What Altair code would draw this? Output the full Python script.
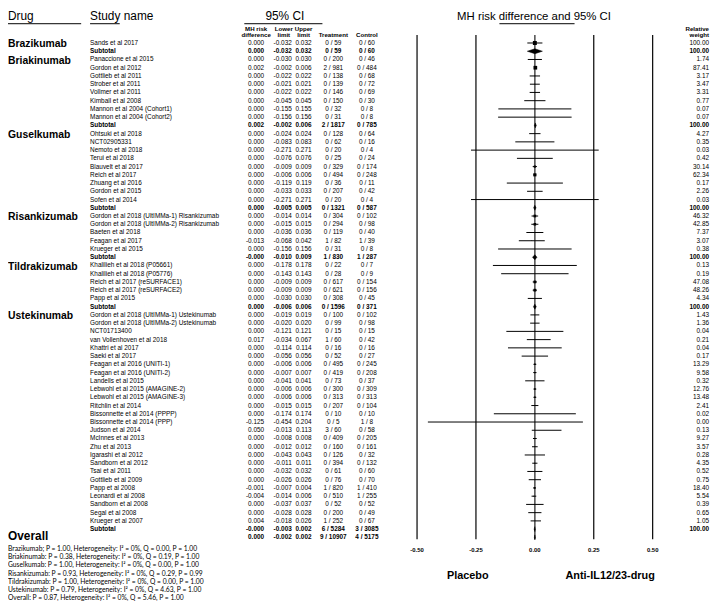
import altair as alt
import pandas as pd

# ---------------- data ----------------
drugs = ["Brazikumab", "Briakinumab", "Guselkumab", "Risankizumab", "Tildrakizumab", "Ustekinumab"]
studies_per_drug = [1, 8, 9, 5, 5, 26]

study_names = [
    "Sands et al 2017", "Subtotal",
    "Panaccione et al 2015", "Gordon et al 2012", "Gottlieb et al 2011", "Strober et al 2011",
    "Vollmer et al 2011", "Kimball et al 2008", "Mannon et al 2004 (Cohort1)", "Mannon et al 2004 (Cohort2)", "Subtotal",
    "Ohtsuki et al 2018", "NCT02905331", "Nemoto et al 2018", "Terui et al 2018", "Blauvelt et al 2017",
    "Reich et al 2017", "Zhuang et al 2016", "Gordon et al 2015", "Sofen et al 2014", "Subtotal",
    "Gordon et al 2018 (UltIMMa-1) Risankizumab", "Gordon et al 2018 (UltIMMa-2) Risankizumab",
    "Baeten et al 2018", "Feagan et al 2017", "Krueger et al 2015", "Subtotal",
    "Khalilieh et al 2018 (P05661)", "Khalilieh et al 2018 (P05776)", "Reich et al 2017 (reSURFACE1)",
    "Reich et al 2017 (reSURFACE2)", "Papp et al 2015", "Subtotal",
    "Gordon et al 2018 (UltIMMa-1) Ustekinumab", "Gordon et al 2018 (UltIMMa-2) Ustekinumab", "NCT01713400",
    "van Vollenhoven et al 2018", "Khattri et al 2017", "Saeki et al 2017", "Feagan et al 2016 (UNITI-1)",
    "Feagan et al 2016 (UNITI-2)", "Landells et al 2015", "Lebwohl et al 2015 (AMAGINE-2)",
    "Lebwohl et al 2015 (AMAGINE-3)", "Ritchlin et al 2014", "Bissonnette et al 2014 (PPPP)",
    "Bissonnette et al 2014 (PPP)", "Judson et al 2014", "McInnes et al 2013", "Zhu et al 2013",
    "Igarashi et al 2012", "Sandborn et al 2012", "Tsai et al 2011", "Gottlieb et al 2009", "Papp et al 2008",
    "Leonardi et al 2008", "Sandborn et al 2008", "Segal et al 2008", "Krueger et al 2007", "Subtotal",
    "Overall",
]

risk_diff = [
    0.000, 0.000,
    0.000, 0.002, 0.000, 0.000, 0.000, 0.000, 0.000, 0.000, 0.002,
    0.000, 0.000, 0.000, 0.000, 0.000, 0.000, 0.000, 0.000, 0.000, 0.000,
    0.000, 0.000, 0.000, -0.013, 0.000, -0.0,
    0.000, 0.000, 0.000, 0.000, 0.000, 0.000,
    0.000, 0.000, 0.000, 0.017, 0.000, 0.000, 0.000, 0.000, 0.000, 0.000, 0.000, 0.000, 0.000,
    -0.125, 0.050, 0.000, 0.000, 0.000, 0.000, 0.000, 0.000, -0.001, -0.004, 0.000, 0.000, 0.004, -0.0,
    0.000,
]

lower_limit = [
    -0.032, -0.032,
    -0.030, -0.002, -0.022, -0.021, -0.022, -0.045, -0.155, -0.156, -0.002,
    -0.024, -0.083, -0.271, -0.076, -0.009, -0.006, -0.119, -0.033, -0.271, -0.005,
    -0.014, -0.015, -0.036, -0.068, -0.156, -0.010,
    -0.178, -0.143, -0.009, -0.009, -0.030, -0.006,
    -0.019, -0.020, -0.121, -0.034, -0.114, -0.056, -0.006, -0.007, -0.041, -0.006, -0.006, -0.015, -0.174,
    -0.454, -0.013, -0.008, -0.012, -0.043, -0.011, -0.032, -0.026, -0.007, -0.014, -0.037, -0.028, -0.018, -0.003,
    -0.002,
]

upper_limit = [
    0.032, 0.032,
    0.030, 0.006, 0.022, 0.021, 0.022, 0.045, 0.155, 0.156, 0.006,
    0.024, 0.083, 0.271, 0.076, 0.009, 0.006, 0.119, 0.033, 0.271, 0.005,
    0.014, 0.015, 0.036, 0.042, 0.156, 0.009,
    0.178, 0.143, 0.009, 0.009, 0.030, 0.006,
    0.019, 0.020, 0.121, 0.067, 0.114, 0.056, 0.006, 0.007, 0.041, 0.006, 0.006, 0.015, 0.174,
    0.204, 0.113, 0.008, 0.012, 0.043, 0.011, 0.032, 0.026, 0.004, 0.006, 0.037, 0.028, 0.026, 0.002,
    0.002,
]

treatment = [
    "0 / 59", "0 / 59",
    "0 / 200", "2 / 981", "0 / 138", "0 / 139", "0 / 146", "0 / 150", "0 / 32", "0 / 31", "2 / 1817",
    "0 / 128", "0 / 62", "0 / 20", "0 / 25", "0 / 329", "0 / 494", "0 / 36", "0 / 207", "0 / 20", "0 / 1321",
    "0 / 304", "0 / 294", "0 / 119", "1 / 82", "0 / 31", "1 / 830",
    "0 / 22", "0 / 28", "0 / 617", "0 / 621", "0 / 308", "0 / 1596",
    "0 / 100", "0 / 99", "0 / 15", "1 / 60", "0 / 16", "0 / 52", "0 / 495", "0 / 419", "0 / 73", "0 / 300",
    "0 / 313", "0 / 207", "0 / 10", "0 / 5", "3 / 60", "0 / 409", "0 / 160", "0 / 126", "0 / 394", "0 / 61",
    "0 / 76", "1 / 820", "0 / 510", "0 / 52", "0 / 200", "1 / 252", "6 / 5284",
    "9 / 10907",
]

control = [
    "0 / 60", "0 / 60",
    "0 / 46", "0 / 484", "0 / 68", "0 / 72", "0 / 69", "0 / 30", "0 / 8", "0 / 8", "0 / 785",
    "0 / 64", "0 / 16", "0 / 4", "0 / 24", "0 / 174", "0 / 248", "0 / 11", "0 / 42", "0 / 4", "0 / 587",
    "0 / 102", "0 / 98", "0 / 40", "1 / 39", "0 / 8", "1 / 287",
    "0 / 7", "0 / 9", "0 / 154", "0 / 156", "0 / 45", "0 / 371",
    "0 / 102", "0 / 98", "0 / 15", "0 / 42", "0 / 16", "0 / 27", "0 / 245", "0 / 208", "0 / 37", "0 / 309",
    "0 / 313", "0 / 104", "0 / 10", "1 / 8", "0 / 58", "0 / 205", "0 / 161", "0 / 32", "0 / 132", "0 / 60",
    "0 / 70", "1 / 410", "1 / 255", "0 / 52", "0 / 49", "0 / 67", "3 / 3085",
    "4 / 5175",
]

relative_weight = [
    100.00, 100.00,
    1.74, 87.41, 3.17, 3.47, 3.31, 0.77, 0.07, 0.07, 100.00,
    4.27, 0.35, 0.03, 0.42, 30.14, 62.34, 0.17, 2.26, 0.03, 100.00,
    46.32, 42.85, 7.37, 3.07, 0.38, 100.00,
    0.13, 0.19, 47.08, 48.26, 4.34, 100.00,
    1.43, 1.36, 0.04, 0.21, 0.04, 0.17, 13.29, 9.58, 0.32, 12.76, 13.48, 2.41, 0.02, 0.00, 0.13, 9.27, 3.57,
    0.28, 4.35, 0.52, 0.75, 18.40, 5.54, 0.39, 0.65, 1.05, 100.00,
    None,
]

tick_values = [-0.50, -0.25, 0.00, 0.25, 0.50]
tick_labels = ["-0.50", "-0.25", "0.00", "0.25", "0.50"]

footnotes = [
    "Brazikumab; P = 1.00, Heterogeneity: I\u00b2 = 0%, Q = 0.00, P = 1.00",
    "Briakinumab: P = 0.38, Heterogeneity: I\u00b2 = 0%, Q = 0.19, P = 1.00",
    "Guselkumab: P = 1.00, Heterogeneity: I\u00b2 = 0%, Q = 0.00, P = 1.00",
    "Risankizumab: P = 0.93, Heterogeneity: I\u00b2 = 0%, Q = 0.29, P = 0.99",
    "Tildrakizumab: P = 1.00,  Heterogeneity: I\u00b2 = 0%, Q = 0.00, P = 1.00",
    "Ustekinumab: P = 0.79, Heterogeneity: I\u00b2 = 0%, Q = 4.63, P = 1.00",
    "Overall: P = 0.87, Heterogeneity: I\u00b2 = 0%, Q = 5.46, P = 1.00",
]

# ---------------- tables ----------------
F = "Liberation Sans"
kind = ["overall" if n == "Overall" else "subtotal" if n == "Subtotal" else "study" for n in study_names]
df = pd.DataFrame({
    "row": list(range(1, len(study_names) + 1)),
    "name": study_names,
    "kind": kind,
    "rd": risk_diff,
    "lo": lower_limit,
    "hi": upper_limit,
    "rd_s": [f"{v:.3f}" for v in risk_diff],
    "lo_s": [f"{v:.3f}" for v in lower_limit],
    "hi_s": [f"{v:.3f}" for v in upper_limit],
    "treat": treatment,
    "ctrl": control,
    "w": [0 if w is None else w for w in relative_weight],
    "w_s": ["" if w is None else f"{w:.2f}" for w in relative_weight],
})

first_rows = []
r = 1
for n in studies_per_drug:
    first_rows.append(r)
    r += n + 1
df_drug = pd.DataFrame({"drug": drugs, "row": first_rows})

half = 0.3
diamonds = []
for rec in df[df.kind != "study"].itertuples():
    diamonds += [
        {"row": rec.row, "x": rec.lo, "y1": rec.row, "y2": rec.row},
        {"row": rec.row, "x": rec.rd, "y1": rec.row - half, "y2": rec.row + half},
        {"row": rec.row, "x": rec.hi, "y1": rec.row, "y2": rec.row},
    ]
df_dia = pd.DataFrame(diamonds)
df_ticks = pd.DataFrame({"t": tick_values, "lab": tick_labels})
one = pd.DataFrame({"a": [0]})

xs = alt.Scale(domain=[-0.5, 0.5], range=[413.7, 652], nice=False, zero=False)
ys = alt.Scale(domain=[1, 61], range=[32, 532], nice=False, zero=False)
Y = alt.Y("row:Q", scale=ys, axis=None)

base = alt.Chart(df)
layers = []


def label(text, x, y, size, bold=False, align="left", baseline="middle", font=F):
    return alt.Chart(one).mark_text(
        align=align, baseline=baseline, font=font, fontSize=size,
        fontWeight="bold" if bold else "normal", color="black"
    ).encode(x=alt.value(x), y=alt.value(y), text=alt.value(text))


def hline(x1, x2, y):
    return alt.Chart(one).mark_rule(color="black", strokeWidth=1).encode(
        x=alt.value(x1), x2=alt.value(x2), y=alt.value(y))


# headers
layers += [
    label("Drug", 0, 9, 12, baseline="alphabetic"),
    label("Study name", 83, 9, 12, baseline="alphabetic"),
    label("95% CI", 280, 9, 12, align="center", baseline="alphabetic"),
    label("MH risk difference and 95% CI", 532, 9, 11.5, align="center", baseline="alphabetic"),
    hline(0, 74, 12.5), hline(83, 113, 12.5), hline(239, 318, 12.5), hline(497, 573, 12.5),
]
sub_headers = [
    ("MH risk", 251, 17.5, "center"), ("difference", 251, 23.5, "center"),
    ("Lower", 279, 17.5, "center"), ("limit", 279, 23.5, "center"),
    ("Upper", 299, 17.5, "center"), ("limit", 299, 23.5, "center"),
    ("Treatment", 329, 23.5, "center"), ("Control", 363, 23.5, "center"),
    ("Relative", 709, 17.5, "right"), ("weight", 709, 23.5, "right"),
]
for t, x, y, a in sub_headers:
    layers.append(label(t, x, y, 6.2, bold=True, align=a))

# reference lines
layers.append(
    alt.Chart(df_ticks).mark_rule().encode(
        x=alt.X("t:Q", scale=xs, axis=None),
        y=alt.value(24), y2=alt.value(534),
        color=alt.condition("datum.t == 0", alt.value("#555555"), alt.value("black")),
        strokeWidth=alt.condition("datum.t == 0", alt.value(1.6), alt.value(1.2)),
    )
)
layers.append(
    alt.Chart(df_ticks).mark_text(font=F, fontSize=6, fontWeight="bold", baseline="middle", color="black").encode(
        x=alt.X("t:Q", scale=xs, axis=None), y=alt.value(545), text="lab:N")
)

# CI lines, squares, diamonds
study_f = "datum.kind == 'study'"
sum_f = "datum.kind != 'study'"
layers.append(
    base.transform_filter(study_f).mark_rule(color="black", strokeWidth=1).encode(
        x=alt.X("lo:Q", scale=xs, axis=None), x2="hi:Q", y=Y)
)
layers.append(
    base.transform_filter(study_f).mark_square(color="black", opacity=1).encode(
        x=alt.X("rd:Q", scale=xs, axis=None), y=Y,
        size=alt.Size("w:Q", scale=alt.Scale(domain=[0, 100], range=[0, 16]), legend=None))
)
layers.append(
    alt.Chart(df_dia).mark_area(color="black", stroke="black", strokeWidth=0.5).encode(
        x=alt.X("x:Q", scale=xs, axis=None),
        y=alt.Y("y1:Q", scale=ys, axis=None), y2="y2:Q", detail="row:N")
)


# table columns
def tcol(field, x, align, bold, filt):
    return base.transform_filter(filt).mark_text(
        align=align, baseline="middle", font=F, fontSize=6.5,
        fontWeight="bold" if bold else "normal", color="black"
    ).encode(x=alt.value(x), y=Y, text=alt.Text(f"{field}:N"))


for filt, bold in [(study_f, False), (sum_f, True)]:
    layers += [
        tcol("rd_s", 259, "right", bold, filt),
        tcol("lo_s", 287, "right", bold, filt),
        tcol("hi_s", 307, "right", bold, filt),
        tcol("treat", 329, "center", bold, filt),
        tcol("ctrl", 363, "center", bold, filt),
        tcol("w_s", 709, "right", bold, filt),
    ]
layers.append(tcol("name", 83, "left", False, study_f))
layers.append(tcol("name", 83, "left", True, "datum.kind == 'subtotal'"))

# drug labels and overall
layers.append(
    alt.Chart(df_drug).mark_text(align="left", baseline="middle", font=F, fontSize=10.5, fontWeight="bold",
                                 color="black", dy=1.5).encode(
        x=alt.value(0), y=alt.Y("row:Q", scale=ys, axis=None), text="drug:N")
)
layers.append(
    base.transform_filter("datum.kind == 'overall'").mark_text(
        align="left", baseline="middle", font=F, fontSize=12, fontWeight="bold", color="black", dy=-1).encode(
        x=alt.value(0), y=Y, text="name:N")
)

# favour labels
layers += [
    label("Placebo", 465, 571, 11, bold=True, align="center"),
    label("Anti-IL12/23-drug", 609, 571, 11, bold=True, align="center"),
]

# footnotes
for i, t in enumerate(footnotes):
    layers.append(label(t, 0, 544 + 8.2 * i, 6.8, font="Lato"))

chart = alt.layer(*layers).properties(
    width=711, height=597, padding=0, autosize=alt.AutoSizeParams(type="none")
).configure_view(stroke=None)

chart.save("out.html", embed_options={"renderer": "svg", "actions": False})
